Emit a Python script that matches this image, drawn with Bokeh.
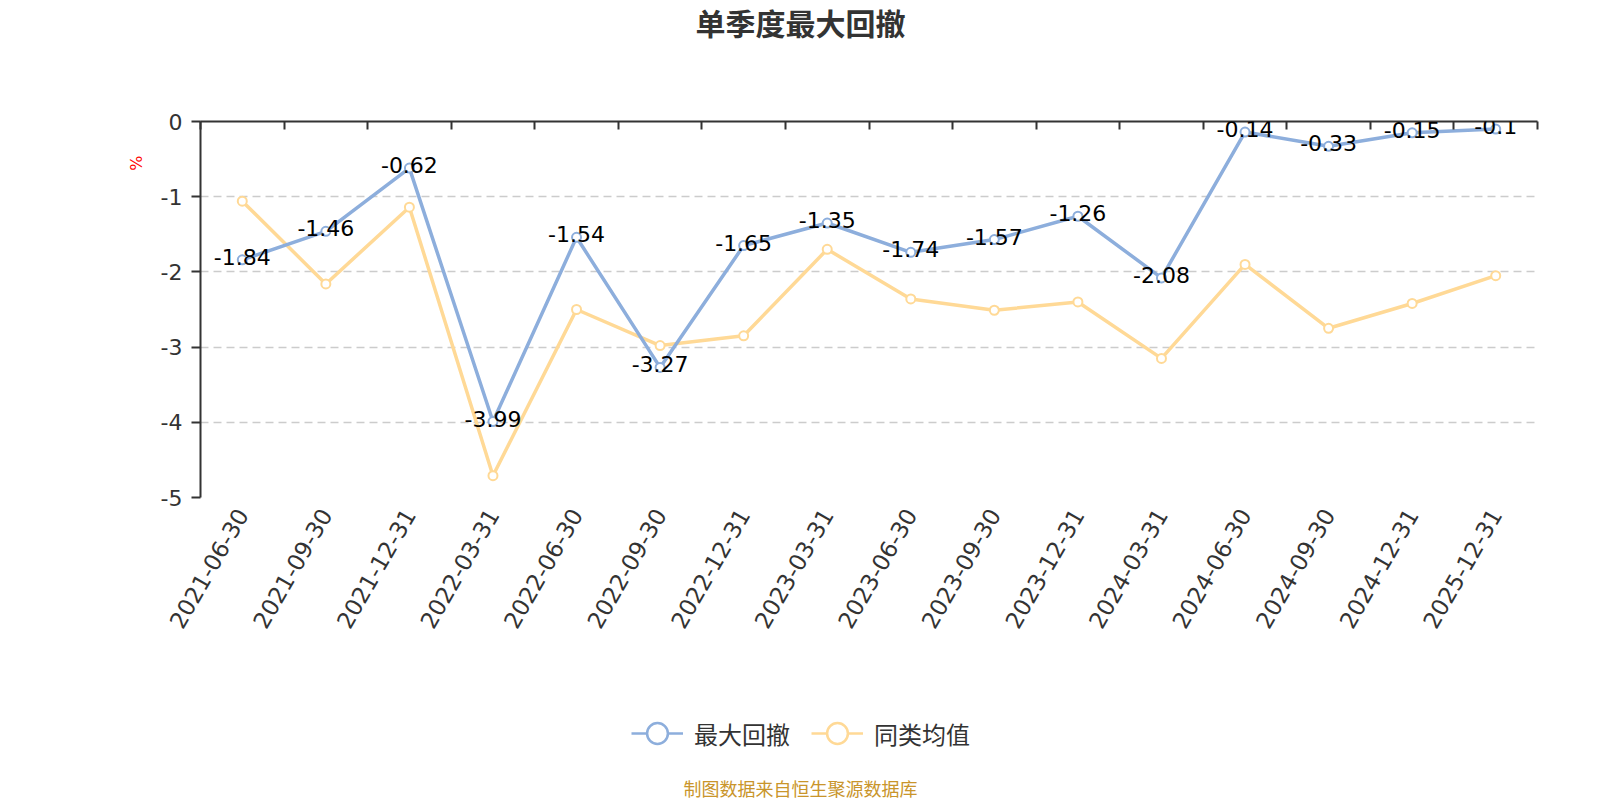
import math
from bokeh.plotting import figure
from bokeh.layouts import column
from bokeh.models import (ColumnDataSource, Range1d, LinearAxis, FixedTicker, Grid,
                          Label, LabelSet, Legend, LegendItem, Title)
from bokeh.core.properties import value
from bokeh.embed import file_html
from bokeh.resources import INLINE

# ---------------- data ----------------
title_text = "单季度最大回撤"
categories = ["2021-06-30", "2021-09-30", "2021-12-31", "2022-03-31", "2022-06-30",
              "2022-09-30", "2022-12-31", "2023-03-31", "2023-06-30", "2023-09-30",
              "2023-12-31", "2024-03-31", "2024-06-30", "2024-09-30", "2024-12-31",
              "2025-12-31"]
series_names = ["最大回撤", "同类均值"]
max_drawdown = [-1.84, -1.46, -0.62, -3.99, -1.54, -3.27, -1.65, -1.35, -1.74, -1.57,
                -1.26, -2.08, -0.14, -0.33, -0.15, -0.1]
peer_average = [-1.06, -2.16, -1.14, -4.71, -2.50, -2.98, -2.85, -1.70, -2.36, -2.51,
                -2.40, -3.15, -1.90, -2.75, -2.42, -2.05]
y_ticks = [0.0, -1.0, -2.0, -3.0, -4.0, -5.0]
y_tick_labels = ["0", "-1", "-2", "-3", "-4", "-5"]
y_unit = "%"
source_note = "制图数据来自恒生聚源数据库"

# ---------------- styles ----------------
BLUE = "#8DAEDC"
YELLOW = "#FFD996"
NUM_FONT = "DejaVu Sans"
CJK_FONT = "Noto Sans CJK SC"
W = 1600
LEFT, RIGHT = 200, 63            # frame borders shared by every strip
TOP_H, MAIN_H, BOT_H = 60, 640, 100
FRAME_L, FRAME_R = LEFT, W - RIGHT
CENTER_X = W / 2


def strip(height):
    # data x == page x inside the frame (frame spans FRAME_L..FRAME_R)
    f = figure(width=W, height=height,
               x_range=Range1d(FRAME_L, FRAME_R), y_range=Range1d(0, height),
               output_backend="svg", toolbar_location=None,
               x_axis_location=None, y_axis_location=None,
               min_border_left=LEFT, min_border_right=RIGHT,
               min_border_top=0, min_border_bottom=0)
    f.grid.visible = False
    f.outline_line_color = None
    f.background_fill_color = "white"
    f.border_fill_color = "white"
    return f


# ---------------- title strip ----------------
top = strip(TOP_H)
top.add_layout(Label(x=CENTER_X, y=TOP_H - 21, text=title_text,
                     text_align="center", text_baseline="middle", text_font=CJK_FONT,
                     text_font_style="bold", text_font_size="30px", text_color="#333333"))

# ---------------- main chart ----------------
n = len(categories)
xs = [i + 0.5 for i in range(n)]

p = figure(width=W, height=MAIN_H,
           x_range=Range1d(0, n), y_range=Range1d(min(y_ticks), max(y_ticks)),
           output_backend="svg", toolbar_location=None,
           x_axis_location=None, y_axis_location=None,
           min_border_left=LEFT, min_border_right=RIGHT,
           min_border_top=61, min_border_bottom=203)
p.outline_line_color = None
p.background_fill_color = "white"
p.border_fill_color = "white"
p.grid.visible = False

grid = Grid(dimension=1, ticker=FixedTicker(ticks=y_ticks),
            grid_line_color="#cccccc", grid_line_dash="8 5", grid_line_width=1.5)
p.add_layout(grid, "center")

top_axis = LinearAxis(ticker=FixedTicker(ticks=list(range(n + 1))),
                      axis_line_color="#333333", axis_line_width=2,
                      major_tick_line_color="#333333", major_tick_line_width=2,
                      major_tick_in=8, major_tick_out=0,
                      minor_tick_line_color=None,
                      major_label_text_color=None, major_label_text_font_size="10px",
                      major_label_standoff=0)
p.add_layout(top_axis, "above")

bottom_axis = LinearAxis(ticker=FixedTicker(ticks=xs),
                         major_label_overrides={x: c for x, c in zip(xs, categories)},
                         axis_line_color=None, major_tick_line_color=None,
                         major_tick_in=0, major_tick_out=0,
                         minor_tick_line_color=None,
                         major_label_orientation=math.pi / 3,
                         major_label_text_font_size="23px",
                         major_label_text_font=NUM_FONT,
                         major_label_text_color="#333333",
                         major_label_standoff=13)
p.add_layout(bottom_axis, "below")

left_axis = LinearAxis(ticker=FixedTicker(ticks=y_ticks),
                       major_label_overrides=dict(zip(y_ticks, y_tick_labels)),
                       axis_line_color="#333333", axis_line_width=2,
                       major_tick_line_color="#333333", major_tick_line_width=2,
                       major_tick_out=9, major_tick_in=0,
                       minor_tick_line_color=None,
                       major_label_text_font_size="22px",
                       major_label_text_font=NUM_FONT,
                       major_label_text_color="#333333",
                       major_label_standoff=9)
p.add_layout(left_axis, "left")
p.add_layout(Title(text=y_unit, align="right", offset=34, standoff=24,
                   text_font=NUM_FONT, text_font_size="16px",
                   text_font_style="normal", text_color="red"), "left")

src_blue = ColumnDataSource(dict(x=xs, y=max_drawdown,
                                 label=[f"{v:g}" for v in max_drawdown]))
src_yel = ColumnDataSource(dict(x=xs, y=peer_average))

p.line("x", "y", source=src_yel, line_color=YELLOW, line_width=3.5)
p.scatter("x", "y", source=src_yel, size=9, marker="circle",
          line_color=YELLOW, line_width=2, fill_color="white")
p.line("x", "y", source=src_blue, line_color=BLUE, line_width=3.5)
p.scatter("x", "y", source=src_blue, size=9, marker="circle",
          line_color=BLUE, line_width=2, fill_color="white")

p.add_layout(LabelSet(x="x", y="y", text="label", source=src_blue,
                      text_align="center", text_baseline="middle", y_offset=3,
                      text_font_size="22px", text_font=value(NUM_FONT),
                      text_color="#000000"))

# ---------------- legend + source strip ----------------
bot = strip(BOT_H)
nan = float("nan")
lb_l = bot.line(x=[nan], y=[nan], line_color=BLUE, line_width=2.5)
lb_s = bot.scatter(x=[nan], y=[nan], marker="circle", size=9, line_color=BLUE,
                   line_width=2.5, fill_color="white")
ly_l = bot.line(x=[nan], y=[nan], line_color=YELLOW, line_width=2.5)
ly_s = bot.scatter(x=[nan], y=[nan], marker="circle", size=9, line_color=YELLOW,
                   line_width=2.5, fill_color="white")
legend = Legend(items=[LegendItem(label=series_names[0], renderers=[lb_l, lb_s]),
                       LegendItem(label=series_names[1], renderers=[ly_l, ly_s])],
                location=(431, 41), orientation="horizontal",
                glyph_width=52, glyph_height=52, label_standoff=11, spacing=21,
                padding=0, margin=0, border_line_color=None,
                background_fill_alpha=0,
                label_text_font_size="24px", label_text_font=CJK_FONT,
                label_text_color="#333333")
bot.add_layout(legend, "center")
bot.add_layout(Label(x=CENTER_X, y=13, text=source_note,
                     text_align="center", text_baseline="middle", text_font=CJK_FONT,
                     text_font_size="18px", text_color="#C9952B"))

layout = column(top, p, bot, spacing=0)
open("out.html", "w").write(file_html(layout, INLINE))
